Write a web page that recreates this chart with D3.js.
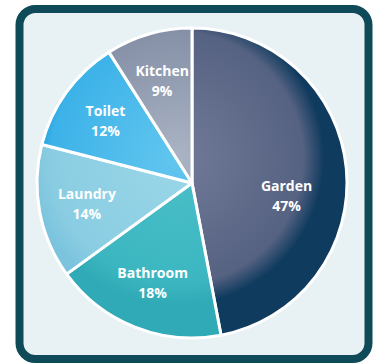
<!DOCTYPE html>
<html>
<head>
<meta charset="utf-8">
<script src="https://cdn.jsdelivr.net/npm/d3@7"></script>
<style>
  body { margin: 0; background: #fff; }
</style>
</head>
<body>
<div id="chart"></div>
<script>
// water use by area
const areas = ["Garden", "Bathroom", "Laundry", "Toilet", "Kitchen"];
const shares = [47, 18, 14, 12, 9];
const fills = [
    ["#717a98", "#566282", "#0f3b5e"],
    ["#4cc0c8", "#3bb6c0", "#30aab6"],
    ["#9ad6e8", "#8acde2", "#7cc4de"],
    ["#62c6ef", "#3cb2e8", "#0b9ad9"],
    ["#aab4c4", "#8690a7", "#6d7892"]
];

const width = 374, height = 364;
const cx = 192, cy = 183, radius = 155;

const data = areas.map((a, i) => ({ area: a, share: shares[i] }));

const svg = d3.select("#chart")
    .append("svg")
    .attr("width", width)
    .attr("height", height);

// frame
svg.append("rect")
    .attr("x", 19.5)
    .attr("y", 9)
    .attr("width", 349)
    .attr("height", 350)
    .attr("rx", 16)
    .attr("fill", "#e8f1f4")
    .attr("stroke", "#0f4a58")
    .attr("stroke-width", 8);

// gradients live in the pie group's space (origin = pie centre)
const defs = svg.append("defs");
data.forEach((d, i) => {
    const grad = defs.append("radialGradient")
        .attr("id", "g" + i)
        .attr("gradientUnits", "userSpaceOnUse")
        .attr("cx", -15)
        .attr("cy", -25)
        .attr("r", radius + 20);
    grad.append("stop").attr("offset", "0%").attr("stop-color", fills[i][0]);
    grad.append("stop").attr("offset", "72%").attr("stop-color", fills[i][1]);
    grad.append("stop").attr("offset", "84%").attr("stop-color", fills[i][2]);
    grad.append("stop").attr("offset", "100%").attr("stop-color", fills[i][2]);
});

const pie = d3.pie()
    .sort(null)
    .value(d => d.share);

const arc = d3.arc()
    .outerRadius(radius)
    .innerRadius(0);

const labelArc = d3.arc()
    .outerRadius(214)
    .innerRadius(0);

const g = svg.append("g")
    .attr("transform", `translate(${cx}, ${cy})`);

const slices = g.selectAll(".arc")
    .data(pie(data))
    .enter()
    .append("g")
    .attr("class", "arc");

slices.append("path")
    .attr("d", arc)
    .style("fill", (d, i) => `url(#g${i})`)
    .attr("stroke", "#ffffff")
    .attr("stroke-width", 3)
    .attr("stroke-linejoin", "round");

function labelPos(d) {
    let [x, y] = labelArc.centroid(d);
    // the big slice's label sits a little lower and further in
    if (d.index === 0) { x -= 12; y += 22; }
    return [x, y];
}

const label = slices.append("g")
    .attr("transform", d => `translate(${labelPos(d)})`)
    .attr("text-anchor", "middle")
    .attr("fill", "#ffffff")
    .attr("font-family", "'Open Sans', sans-serif")
    .attr("font-weight", "bold")
    .attr("font-size", "14px");

label.append("text")
    .attr("y", -4)
    .text(d => d.data.area);

label.append("text")
    .attr("y", 16)
    .text(d => d.data.share + "%");
</script>
</body>
</html>
